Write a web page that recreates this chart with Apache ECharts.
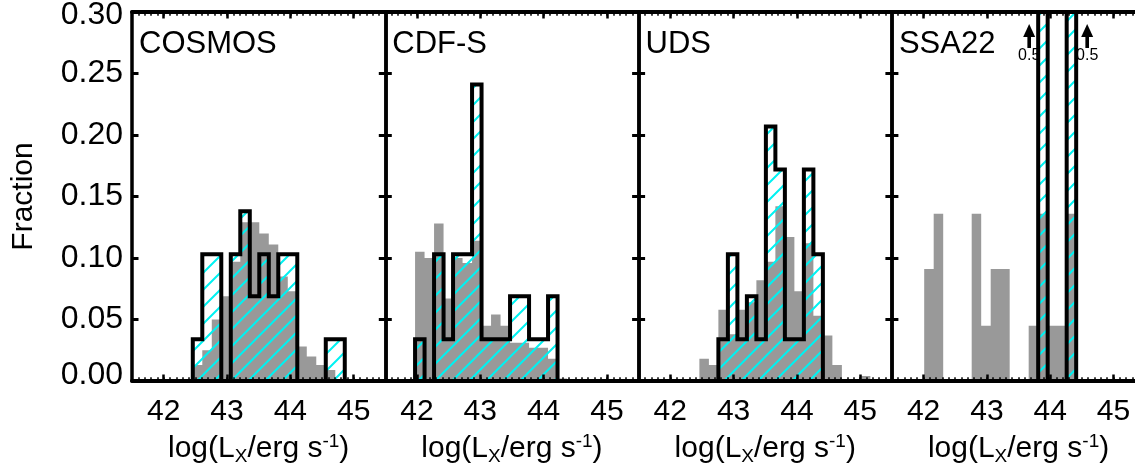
<!DOCTYPE html>
<html>
<head>
<meta charset="utf-8">
<title>Fraction vs log Lx</title>
<script src="https://cdn.jsdelivr.net/npm/echarts@6/dist/echarts.min.js"></script>
<style>
  html, body { margin: 0; padding: 0; background: #fff; }
  #chart { width: 1135px; height: 464px; }
</style>
</head>
<body>
<div id="chart"></div>
<script>
// one panel per field
const fields = ['COSMOS', 'CDF-S', 'UDS', 'SSA22'];
const xTicks = [42, 43, 44, 45];
const binWidth = 0.15;

// grey histograms (whole sample), first bin left edge + fractions
const allStart = [42.46, 41.97, 42.46, 42.01];
const allCosmos = [0.013, 0.025, 0.050, 0.069, 0.097, 0.129, 0.129, 0.120, 0.111, 0.085, 0.073, 0.028, 0.020, 0.013, 0.009];
const allCdfs = [0.105, 0.100, 0.128, 0.067, 0.100, 0.096, 0.114, 0.045, 0.054, 0.045, 0.031, 0.031, 0.027, 0.027, 0.018, 0.002];
const allUds = [0.018, 0.013, 0.058, 0.038, 0.058, 0.064, 0.082, 0.097, 0.142, 0.117, 0.073, 0.112, 0.053, 0.037, 0.013, 0, 0, 0.004];
const allSsa22 = [0.091, 0.136, 0, 0, 0, 0.136, 0.045, 0.091, 0.091, 0, 0, 0.045, 0.136, 0.045, 0.045, 0.136];

// outlined + hatched histograms
const agnStart = [42.46, 41.97, 42.76, 43.81];
const agnCosmos = [0.034, 0.103, 0.103, 0, 0.103, 0.138, 0.069, 0.103, 0.069, 0.103, 0.103, 0, 0, 0, 0.034, 0.034];
const agnCdfs = [0.034, 0, 0.103, 0.034, 0.103, 0.103, 0.241, 0.034, 0.034, 0.034, 0.069, 0.069, 0.034, 0.034, 0.069];
const agnUds = [0.034, 0.103, 0.034, 0.069, 0.034, 0.207, 0.172, 0.034, 0.034, 0.172, 0.103];
const agnSsa22 = [0.5, 0, 0, 0.5];

const allVals = [allCosmos, allCdfs, allUds, allSsa22];
const agnVals = [agnCosmos, agnCdfs, agnUds, agnSsa22];

const yMax = 0.30;
const font = '"Liberation Sans", Arial, Helvetica, sans-serif';
const gridLeft = 132, gridW = 253.3, gridTop = 12, gridH = 369;

// step outline points for a histogram
function stepPoints(start, vals) {
    const pts = [[start, 0]];
    vals.forEach((v, i) => pts.push([+(start + i * binWidth).toFixed(3), v]));
    pts.push([+(start + vals.length * binWidth).toFixed(3), 0]);
    return pts;
}

// cyan diagonal hatch
function hatchCanvas() {
    const s = 17;
    const c = document.createElement('canvas');
    c.width = s; c.height = s;
    const g = c.getContext('2d');
    g.strokeStyle = '#00f2f2';
    g.lineWidth = 2;
    g.beginPath();
    g.moveTo(0, s); g.lineTo(s, 0);
    g.moveTo(-s / 2, s / 2); g.lineTo(s / 2, -s / 2);
    g.moveTo(s / 2, s * 1.5); g.lineTo(s * 1.5, s / 2);
    g.stroke();
    return c;
}
const hatch = {image: hatchCanvas(), repeat: 'repeat'};

const grids = [], xAxes = [], yAxes = [], series = [], titles = [];

fields.forEach((name, k) => {
    const left = gridLeft + k * gridW;
    grids.push({left: left, top: gridTop, width: gridW, height: gridH, containLabel: false, outerBoundsMode: 'none'});
    titles.push({
        text: name, left: left + 7, top: 29, padding: 0,
        textStyle: {fontSize: 31, fontWeight: 'normal', color: '#000', fontFamily: font, lineHeight: 31}
    });

    const base = {gridIndex: k, type: 'value', min: 41.5, max: 45.5, z: 10, splitLine: {show: false}};
    // tick lengths count from the middle of the thick frame line
    const majorTick = {show: true, inside: true, length: 6.5, lineStyle: {color: '#000', width: 2.5}, customValues: xTicks};
    const minorTick = {show: true, inside: true, length: 3.8, lineStyle: {color: '#000', width: 1.5}};
    // bottom, major
    xAxes.push(Object.assign({}, base, {
        position: 'bottom',
        axisLine: {show: true, onZero: false, lineStyle: {color: '#000', width: 4}},
        axisTick: majorTick,
        axisLabel: {show: true, customValues: xTicks, color: '#000', fontSize: 30, fontFamily: font, margin: 16, lineHeight: 30},
        name: '{t|log(L}{s|X}{t|/erg s}{p|-1}{t|)}',
        nameLocation: 'middle',
        nameGap: 49,
        nameTextStyle: {
            color: '#000',
            rich: {
                t: {fontSize: 30, lineHeight: 34, fontFamily: font, color: '#000'},
                s: {fontSize: 19, lineHeight: 19, verticalAlign: 'bottom', fontFamily: font, color: '#000'},
                p: {fontSize: 19, lineHeight: 19, verticalAlign: 'top', fontFamily: font, color: '#000'}
            }
        }
    }));
    // bottom, minor
    xAxes.push(Object.assign({}, base, {
        position: 'bottom', interval: 0.1,
        axisLine: {show: false, onZero: false},
        axisTick: minorTick,
        axisLabel: {show: false}
    }));
    // top, major
    xAxes.push(Object.assign({}, base, {
        position: 'top',
        axisLine: {show: true, onZero: false, lineStyle: {color: '#000', width: 4}},
        axisTick: majorTick,
        axisLabel: {show: false}
    }));
    // top, minor
    xAxes.push(Object.assign({}, base, {
        position: 'top', interval: 0.1,
        axisLine: {show: false, onZero: false},
        axisTick: minorTick,
        axisLabel: {show: false}
    }));

    const ybase = {
        gridIndex: k, type: 'value', min: 0, max: yMax, interval: 0.05, z: 10,
        splitLine: {show: false},
        axisLine: {show: true, onZero: false, lineStyle: {color: '#000', width: 3.5}},
        axisTick: {show: true, inside: true, length: 6.5, lineStyle: {color: '#000', width: 3}}
    };
    yAxes.push(Object.assign({}, ybase, {
        position: 'left',
        axisLabel: k === 0 ? {
            show: true, margin: 9, color: '#000', fontSize: 32, fontFamily: font,
            showMinLabel: true, showMaxLabel: true,
            formatter: v => {
                const s = v.toFixed(2);
                if (v <= 0) return '{lo|' + s + '}';
                if (v >= yMax - 1e-9) return '{hi|' + s + '}';
                return s;
            },
            rich: {
                lo: {fontSize: 32, fontFamily: font, color: '#000', padding: [0, 0, 12, 0]},
                hi: {fontSize: 32, fontFamily: font, color: '#000', padding: [7, 0, 0, 0]}
            }
        } : {show: false},
        name: k === 0 ? 'Fraction' : '',
        nameLocation: 'middle',
        nameGap: 93,
        nameTextStyle: {color: '#000', fontSize: 30, fontFamily: font, lineHeight: 30}
    }));
    yAxes.push(Object.assign({}, ybase, {position: 'right', axisLabel: {show: false}}));

    series.push({
        type: 'line', xAxisIndex: 4 * k, yAxisIndex: 2 * k,
        data: stepPoints(allStart[k], allVals[k]),
        step: 'end', symbol: 'none', silent: true,
        lineStyle: {width: 0, opacity: 0},
        areaStyle: {color: '#999999', opacity: 1},
        z: 2
    });
    series.push({
        type: 'line', xAxisIndex: 4 * k, yAxisIndex: 2 * k,
        data: stepPoints(agnStart[k], agnVals[k]),
        step: 'end', symbol: 'none', silent: true,
        lineStyle: {color: '#000', width: 4, join: 'miter', cap: 'butt'},
        areaStyle: {color: hatch, opacity: 1},
        z: 3
    });

    // arrows for bins that run off the top
    const overs = [];
    agnVals[k].forEach((v, i) => {
        if (v > yMax) {
            const x0 = +(agnStart[k] + i * binWidth).toFixed(3);
            overs.push([x0, +(x0 + binWidth).toFixed(3), v, i < agnVals[k].length / 2 ? -1 : 1]);
        }
    });
    if (overs.length) {
        series.push({
            type: 'custom', xAxisIndex: 4 * k, yAxisIndex: 2 * k, silent: true, clip: false, z: 12,
            data: overs,
            renderItem: (params, api) => {
                const top = params.coordSys.y;
                const l = api.coord([api.value(0), 0])[0];
                const r = api.coord([api.value(1), 0])[0];
                const ax = api.value(3) < 0 ? l - 9 : r + 11;
                return {
                    type: 'group',
                    children: [
                        {type: 'polygon', shape: {points: [[ax, top + 12], [ax - 6, top + 25], [ax + 6, top + 25]]}, style: {fill: '#000'}},
                        {type: 'rect', shape: {x: ax - 1.8, y: top + 22, width: 3.6, height: 14}, style: {fill: '#000'}},
                        {type: 'text', style: {text: String(api.value(2)), x: ax, y: top + 44, align: 'center', verticalAlign: 'middle', fontSize: 16, fontFamily: font, fill: '#000'}}
                    ]
                };
            }
        });
    }
});

const chart = echarts.init(document.getElementById('chart'));
chart.setOption({
    animation: false,
    backgroundColor: '#fff',
    title: titles,
    grid: grids,
    xAxis: xAxes,
    yAxis: yAxes,
    series: series
});
</script>
</body>
</html>
